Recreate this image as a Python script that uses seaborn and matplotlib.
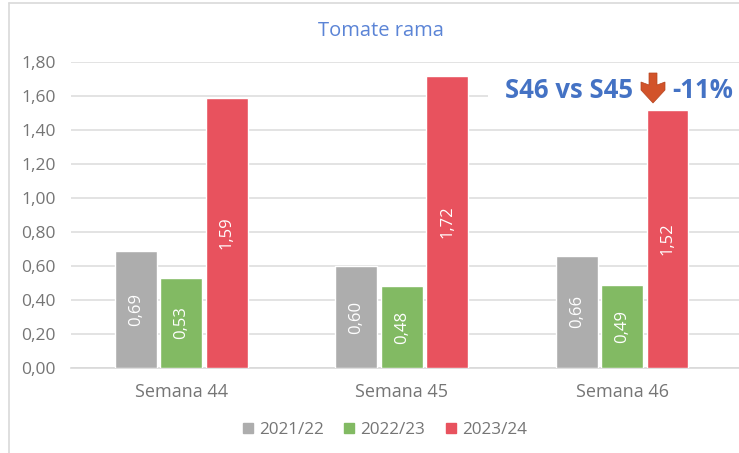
import matplotlib
matplotlib.use("Agg")
import matplotlib.pyplot as plt
from matplotlib.lines import Line2D
from matplotlib.patches import Polygon, Rectangle
import pandas as pd
import seaborn as sns

# Values
semanas = ["Semana 44", "Semana 45", "Semana 46"]
temporadas = ["2021/22", "2022/23", "2023/24"]
v_2021 = [0.69, 0.60, 0.66]
v_2022 = [0.53, 0.48, 0.49]
v_2023 = [1.59, 1.72, 1.52]
colores = ["#ADADAD", "#82BA63", "#E8525E"]

df = pd.DataFrame({
    "semana": semanas * 3,
    "temporada": [t for t in temporadas for _ in semanas],
    "valor": v_2021 + v_2022 + v_2023,
})

sns.set_theme(style="white")
plt.rcParams["font.family"] = ["Open Sans", "DejaVu Sans"]

W, H = 739, 453
fig = plt.figure(figsize=(W / 100, H / 100), dpi=100)
ax = fig.add_axes([71 / W, 1 - 368 / H, 668 / W, 306 / H])

sns.barplot(data=df, x="semana", y="valor", hue="temporada", palette=colores,
            width=0.618, gap=0.08, saturation=1, ax=ax, legend=False, zorder=3)

ax.set_xlim(-0.5, 2.53)
ax.set_ylim(0, 1.8)
ax.set_xlabel("")
ax.set_ylabel("")
ax.set_yticks([i * 0.2 for i in range(10)])
ax.set_yticklabels([f"{i * 0.2:.2f}".replace(".", ",") for i in range(10)],
                   fontsize=12.5, color="#757575")
ax.tick_params(axis="x", labelsize=13, labelcolor="#757575", length=0, pad=11)
ax.tick_params(axis="y", length=0, pad=11)
ax.grid(axis="y", color="#DEDEDE", linewidth=1.2)
ax.set_axisbelow(True)
sns.despine(ax=ax, left=True)
ax.spines["bottom"].set_color("#D9D9D9")
ax.spines["bottom"].set_linewidth(1.2)

for cont in ax.containers:
    labels = [f"{v:.2f}".replace(".", ",") for v in cont.datavalues]
    ax.bar_label(cont, labels=labels, label_type="center", rotation=90,
                 color="white", fontsize=12)

fig.text(381 / W, 1 - 31 / H, "Tomate rama", ha="center", va="center",
         fontsize=14.5, color="#5B84D6")

# Recuadro blanco del comentario, tapa la linea de 1,60
fig.add_artist(Rectangle((488 / W, 1 - 108 / H), 251 / W, 32 / H, transform=fig.transFigure,
                         facecolor="white", edgecolor="none", zorder=2))
fig.text(505 / W, 1 - 91 / H, "S46 vs S45", ha="left", va="center",
         fontsize=18.5, fontweight="bold", color="#4472C4")
fig.text(672 / W, 1 - 91 / H, "-11%", ha="left", va="center",
         fontsize=18.5, fontweight="bold", color="#4472C4")

# Flecha
flecha = [(649, 73), (657, 73), (657, 85), (665, 82), (665, 90), (653, 103), (641, 90), (641, 82), (649, 85)]
fig.add_artist(Polygon([(x / W, 1 - y / H) for x, y in flecha], closed=True, zorder=3,
                       transform=fig.transFigure, facecolor="#D2532A", edgecolor="#B5451F", linewidth=0.5))

handles = [Line2D([], [], linestyle="", marker="s", markersize=7, color=c) for c in colores]
fig.legend(handles, temporadas, loc="center", bbox_to_anchor=(384 / W, 1 - 430 / H), ncol=3,
           frameon=False, fontsize=12.3, labelcolor="#757575", handlelength=0.8,
           handletextpad=0.25, columnspacing=1.1)

# Marco de la captura
fig.add_artist(Line2D([9 / W, 9 / W], [0, 1 - 3 / H], color="#D9D9D9", lw=1.2))
fig.add_artist(Line2D([9 / W, 1], [1 - 3 / H, 1 - 3 / H], color="#D9D9D9", lw=1.2))

fig.savefig("out.png", dpi=100)
